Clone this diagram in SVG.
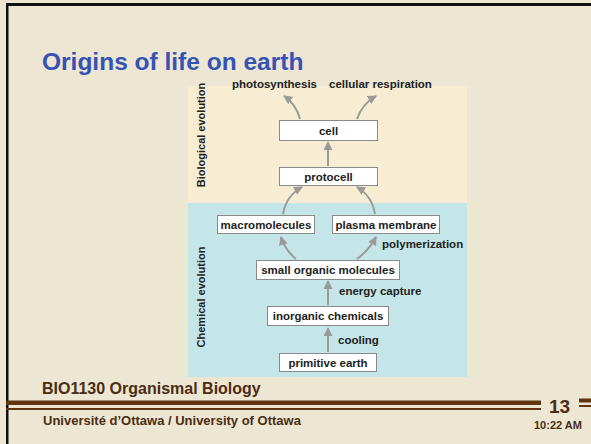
<svg xmlns="http://www.w3.org/2000/svg" width="591" height="444" viewBox="0 0 591 444">
<defs>
<marker id="ah" markerUnits="userSpaceOnUse" markerWidth="9" markerHeight="9" refX="8" refY="4.5" orient="auto" viewBox="0 0 9 9">
<path d="M0,0 L9,4.5 L0,9 z" fill="#9a9a9a"/>
</marker>
<style>
.box{fill:#ffffff;stroke:#8a8a8a;stroke-width:1}
.bt{font-family:"Liberation Sans",Arial,sans-serif;font-weight:bold;font-size:11.5px;fill:#222;text-anchor:middle}
.lt{font-family:"Liberation Sans",Arial,sans-serif;font-weight:bold;font-size:11.5px;fill:#222}
.vt{font-family:"Liberation Sans",Arial,sans-serif;font-weight:bold;font-size:11px;fill:#222;text-anchor:middle}
.ar{fill:none;stroke:#9a9a9a;stroke-width:2;marker-end:url(#ah)}
.brown{fill:#5e3510}
.ft{font-family:"Liberation Sans",Arial,sans-serif;font-weight:bold;fill:#4a2d12}
</style>
</defs>
<rect x="0" y="0" width="591" height="444" fill="#ede6d3"/>
<rect x="6" y="3" width="585" height="3" fill="#111"/>
<rect x="6" y="3" width="2.5" height="441" fill="#111"/>
<text x="42" y="70" font-family="'Liberation Sans',Arial,sans-serif" font-weight="bold" font-size="24.5" fill="#3552b4">Origins of life on earth</text>

<g id="panel">
<rect x="188" y="86" width="279" height="117" fill="#f6edd2"/>
<rect x="188" y="203" width="279" height="174" fill="#c4e6e9"/>
<text class="vt" transform="translate(205,135) rotate(-90)">Biological evolution</text>
<text class="vt" transform="translate(205,297) rotate(-90)">Chemical evolution</text>
</g>

<g id="labels">
<text class="lt" x="232" y="88">photosynthesis</text>
<text class="lt" x="329" y="88">cellular respiration</text>
<text class="lt" x="382" y="248">polymerization</text>
<text class="lt" x="339" y="295">energy capture</text>
<text class="lt" x="338" y="344">cooling</text>
</g>

<g id="connectors">
<path class="ar" d="M300 119 Q296 104 284 96"/>
<path class="ar" d="M357 119 Q362 104 376 96"/>
<path class="ar" d="M328 166 L328 142"/>
<path class="ar" d="M283 214 Q286 196 302 187"/>
<path class="ar" d="M375 214 Q372 196 357 187"/>
<path class="ar" d="M296 259 Q285 250 281 237"/>
<path class="ar" d="M357 259 Q369 250 376 237"/>
<path class="ar" d="M328 305 L328 281"/>
<path class="ar" d="M328 352 L328 328"/>
</g>

<g id="cell"><rect class="box" x="279.5" y="120.5" width="98" height="20"/><text class="bt" x="328.5" y="134.5">cell</text></g>
<g id="protocell"><rect class="box" x="279.5" y="167.5" width="98" height="18"/><text class="bt" x="328.5" y="180.5">protocell</text></g>
<g id="macromolecules"><rect class="box" x="217.5" y="215.5" width="97" height="18"/><text class="bt" x="266" y="228.5">macromolecules</text></g>
<g id="plasma"><rect class="box" x="332.5" y="215.5" width="107" height="18"/><text class="bt" x="386" y="228.5">plasma membrane</text></g>
<g id="small"><rect class="box" x="256.5" y="260.5" width="143" height="19"/><text class="bt" x="328" y="274">small organic molecules</text></g>
<g id="inorganic"><rect class="box" x="267.5" y="306.5" width="121" height="19"/><text class="bt" x="328" y="320">inorganic chemicals</text></g>
<g id="earth"><rect class="box" x="279.5" y="353.5" width="97" height="18"/><text class="bt" x="328" y="366.5">primitive earth</text></g>

<g id="footer">
<text class="ft" x="42" y="394" font-size="16">BIO1130 Organismal Biology</text>
<rect class="brown" x="6" y="400.5" width="535" height="4.5"/>
<rect class="brown" x="6" y="408" width="535" height="2"/>
<rect class="brown" x="579" y="398.5" width="12" height="4"/>
<rect class="brown" x="579" y="405" width="12" height="2"/>
<text class="ft" x="549" y="413" font-size="19">13</text>
<text class="ft" x="43" y="425" font-size="13">Université d’Ottawa / University of Ottawa</text>
<text class="ft" x="534" y="429" font-size="11">10:22 AM</text>
</g>
</svg>
